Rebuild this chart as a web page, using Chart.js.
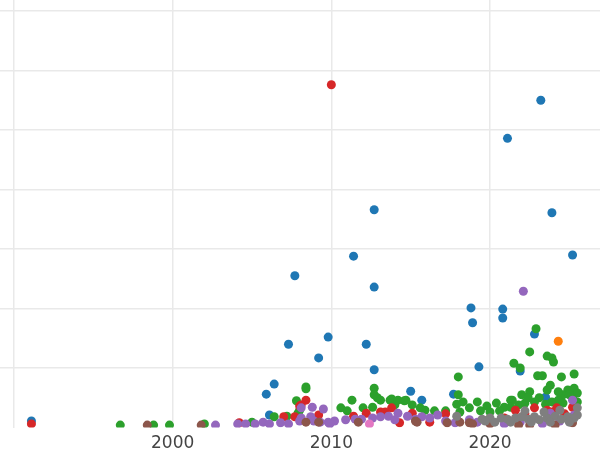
<!DOCTYPE html>
<html>
<head>
<meta charset="utf-8">
<script src="https://cdn.jsdelivr.net/npm/chart.js@4"></script>
<style>
  html, body { margin: 0; padding: 0; background: #fff; }
  #wrap { width: 600px; height: 450px; }
</style>
</head>
<body>
<div id="wrap"><canvas id="chart"></canvas></div>
<script>
// x = year, y = value (arbitrary units, gridline every 10)
const xTicks = [1990, 2000, 2010, 2020];
const yTicks = [10, 20, 30, 40, 50, 60, 70];

const blueX = [1991.1, 2023.2, 2021.1, 2012.7, 2023.9, 2011.4, 2025.2, 2007.7, 2012.7, 2018.8, 2020.8, 2020.8, 2018.9, 2009.8, 2022.8, 2007.3, 2012.2, 2009.2, 2019.3, 2012.7, 2021.9, 2006.4, 2005.9, 2015.0, 2017.7, 2015.7, 2023.5, 2006.1];
const blueY = [1.1, 55.0, 48.6, 36.6, 36.1, 28.8, 29.0, 25.5, 23.6, 20.1, 19.9, 18.4, 17.6, 15.2, 15.7, 14.0, 14.0, 11.7, 10.2, 9.7, 9.5, 7.3, 5.6, 6.1, 5.6, 4.6, 5.1, 2.1];

const orangeX = [2024.3];
const orangeY = [14.5];

const greenX = [1996.7, 1998.8, 1999.8, 2002.0, 2005.0, 2006.4, 2007.2, 2007.8, 2008.4, 2008.4, 2007.9, 2008.0,
  2010.6, 2011.0, 2011.3, 2012.0, 2012.6, 2012.7, 2012.7, 2012.9, 2013.1, 2013.7, 2013.8, 2014.0, 2014.2, 2014.6, 2015.1, 2015.6, 2014.7,
  2015.9, 2018.0, 2018.0, 2017.9, 2018.3, 2018.7, 2019.2, 2019.8, 2020.4, 2020.9, 2021.3, 2016.5, 2017.2, 2018.1, 2019.4, 2020.0, 2020.6,
  2022.9, 2022.5, 2023.6, 2023.9, 2024.0, 2021.5, 2021.9, 2023.0, 2023.3, 2024.5, 2025.3, 2023.8, 2023.6, 2022.5, 2022.0, 2021.4, 2021.3,
  2024.9, 2025.3, 2025.5, 2024.6, 2024.3, 2025.2, 2023.1, 2022.2, 2023.9, 2025.5, 2022.8, 2023.5, 2024.6, 2021.8, 2022.4, 2024.3, 2025.0];
const greenY = [0.4, 0.4, 0.4, 0.6, 0.9, 1.8, 1.9, 4.5, 6.8, 6.5, 2.4, 2.9,
  3.3, 2.8, 4.6, 3.3, 3.4, 6.6, 5.5, 5.0, 4.6, 4.6, 4.8, 3.8, 4.6, 4.5, 3.8, 3.3, 4.6,
  2.9, 8.5, 5.5, 3.9, 4.3, 3.3, 4.3, 3.6, 4.1, 3.4, 4.6, 2.8, 2.8, 2.6, 2.8, 2.6, 2.8,
  16.6, 12.7, 12.0, 11.7, 11.0, 10.8, 10.0, 8.7, 8.7, 8.5, 9.0, 7.1, 6.3, 6.0, 5.5, 4.6, 3.4,
  6.3, 6.6, 5.8, 5.5, 4.6, 5.0, 5.0, 4.1, 4.3, 4.3, 4.3, 3.9, 4.1, 3.8, 5.0, 6.0, 5.5];

const redX = [1991.1, 2010.0, 2008.4, 2008.1, 2007.0, 2007.7, 2004.2, 2009.2, 2008.0, 2013.1, 2013.8, 2012.2, 2013.4, 2015.1, 2011.4,
  2017.2, 2014.3, 2016.2, 2022.8, 2024.2, 2023.9, 2023.6, 2021.6, 2025.2, 2022.2, 2024.7, 2019.9, 2020.9];
const redY = [0.6, 57.6, 4.6, 3.8, 1.8, 1.8, 0.8, 2.1, 3.6, 2.6, 3.3, 2.4, 2.6, 2.4, 1.9,
  2.3, 0.8, 0.9, 3.3, 3.3, 2.6, 2.9, 2.9, 3.4, 2.3, 2.3, 1.3, 1.6];

const purpleX = [2002.7, 2004.1, 2004.6, 2005.2, 2005.7, 2006.1, 2006.8, 2007.3,
  2008.1, 2008.8, 2009.5, 2008.1, 2008.7, 2008.0, 2008.9, 2009.3, 2009.8,
  2010.2, 2010.9, 2011.5, 2011.9, 2012.6, 2013.1, 2013.6, 2014.2, 2014.0, 2014.8, 2015.3, 2015.7, 2009.9,
  2016.2, 2016.7, 2017.2, 2018.7, 2017.8, 2019.2,
  2022.1, 2025.2, 2023.8, 2023.3, 2022.8, 2021.9, 2020.9, 2024.4, 2025.3];
const purpleY = [0.4, 0.6, 0.6, 0.6, 0.9, 0.6, 0.8, 0.6,
  3.3, 3.4, 3.1, 1.6, 1.8, 1.1, 1.1, 0.9, 0.9,
  1.1, 1.3, 1.4, 1.4, 1.6, 1.8, 1.9, 2.4, 1.3, 1.9, 1.4, 1.8, 0.6,
  1.6, 2.1, 1.1, 1.3, 0.8, 0.9,
  22.9, 4.6, 2.4, 0.6, 1.6, 0.9, 0.6, 1.1, 2.1];

const brownX = [1998.4, 2001.8, 2008.4, 2009.2, 2011.7, 2015.3, 2015.4, 2017.3, 2018.1, 2018.7, 2018.9, 2021.8, 2025.2, 2020.0, 2022.5, 2024.1];
const brownY = [0.4, 0.4, 0.9, 0.9, 0.9, 1.1, 0.9, 0.8, 0.9, 0.8, 0.6, 0.4, 0.8, 0.6, 0.4, 0.4];

const pinkX = [2012.4];
const pinkY = [0.6];

const grayX = [2017.9, 2019.5, 2020.0, 2020.7, 2021.1, 2021.6, 2022.0, 2022.4, 2022.8, 2023.1, 2023.6, 2024.1, 2024.5, 2024.9, 2025.3, 2025.5, 2025.5,
  2020.3, 2021.3, 2022.6, 2023.8, 2025.0, 2019.7, 2023.4, 2022.2, 2024.4];
const grayY = [1.9, 1.4, 1.6, 1.6, 1.4, 1.6, 1.8, 1.4, 1.8, 1.3, 1.6, 1.9, 1.4, 1.8, 1.6, 3.3, 2.1,
  0.9, 0.9, 0.9, 0.9, 0.9, 1.1, 2.6, 2.8, 2.9];

function pts(xs, ys) {
  return xs.map((x, i) => ({ x: x, y: ys[i] }));
}

const series = [
  { data: pts(blueX, blueY), color: '#1f77b4' },
  { data: pts(orangeX, orangeY), color: '#ff7f0e' },
  { data: pts(greenX, greenY), color: '#2ca02c' },
  { data: pts(redX, redY), color: '#d62728' },
  { data: pts(purpleX, purpleY), color: '#9467bd' },
  { data: pts(brownX, brownY), color: '#8c564b' },
  { data: pts(pinkX, pinkY), color: '#e377c2' },
  { data: pts(grayX, grayY), color: '#7f7f7f' }
];

window.addEventListener('DOMContentLoaded', () => {
  const ctx = document.getElementById('chart').getContext('2d');

  new Chart(ctx, {
    type: 'scatter',
    data: {
      datasets: series.map((s, i) => ({
        data: s.data,
        backgroundColor: s.color,
        borderWidth: 0,
        pointRadius: 4.5,
        pointHoverRadius: 4.5,
        clip: 0,
        order: series.length - i   // later series drawn on top
      }))
    },
    options: {
      responsive: true,
      maintainAspectRatio: false,
      animation: false,
      layout: { padding: 0, autoPadding: false },
      plugins: { legend: { display: false }, tooltip: { enabled: false } },
      scales: {
        x: {
          type: 'linear',
          min: 1989.12,
          max: 2026.93,
          afterBuildTicks: (scale) => { scale.ticks = xTicks.map(v => ({ value: v })); },
          afterFit: (scale) => { scale.height = 22.5; },
          grid: { color: '#e9e9e9', lineWidth: 1.5, drawTicks: false },
          border: { display: false },
          ticks: {
            padding: 6,
            color: '#444',
            font: { family: 'DejaVu Sans', size: 17 },
            maxRotation: 0,
            callback: (v) => (v === 1990 ? '' : String(v))
          }
        },
        y: {
          min: 0,
          max: 71.85,
          afterBuildTicks: (scale) => { scale.ticks = yTicks.map(v => ({ value: v })); },
          afterFit: (scale) => { scale.width = 0; },
          grid: { color: '#e9e9e9', lineWidth: 1.5, drawTicks: false },
          border: { display: false },
          ticks: { display: false }
        }
      }
    }
  });
});
</script>
</body>
</html>
